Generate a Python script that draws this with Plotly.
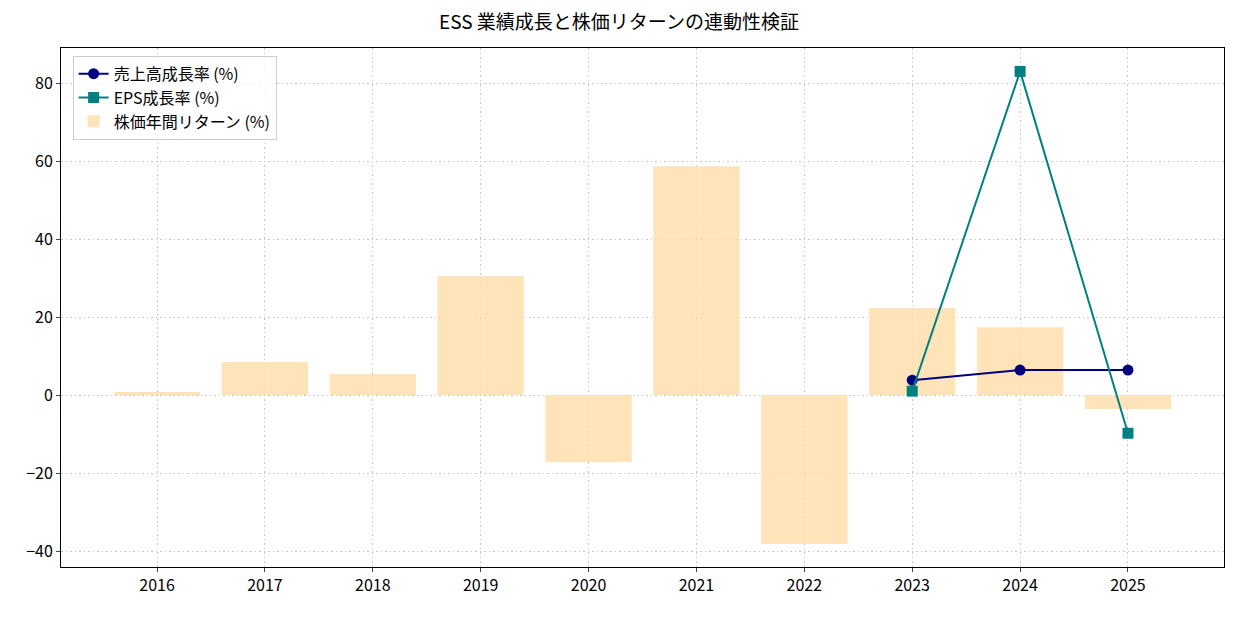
import plotly.graph_objects as go

years = [2016, 2017, 2018, 2019, 2020, 2021, 2022, 2023, 2024, 2025]
stock_return = [0.8, 8.5, 5.4, 30.5, -17.2, 58.7, -38.2, 22.3, 17.4, -3.6]
rev_years = [2023, 2024, 2025]
revenue_growth = [3.8, 6.4, 6.4]
eps_growth = [1.0, 83.0, -9.8]

FONT = "Noto Sans CJK JP"
idx = {y: i for i, y in enumerate(years)}

fig = go.Figure()
fig.add_trace(go.Scatter(
    x=[idx[y] for y in rev_years], y=revenue_growth, mode="lines+markers",
    name="売上高成長率 (%)", line=dict(color="#000080", width=2),
    marker=dict(symbol="circle", size=11, color="#000080"),
))
fig.add_trace(go.Scatter(
    x=[idx[y] for y in rev_years], y=eps_growth, mode="lines+markers",
    name="EPS成長率 (%)", line=dict(color="#008080", width=2),
    marker=dict(symbol="square", size=11, color="#008080"),
))
fig.add_trace(go.Bar(
    x=list(range(len(years))), y=stock_return, width=0.8,
    name="株価年間リターン (%)", marker=dict(color="rgba(255,222,173,0.85)", line=dict(width=0)),
))

fig.update_layout(
    width=1238, height=617,
    margin=dict(l=61, r=14, t=48, b=50),
    paper_bgcolor="white", plot_bgcolor="white",
    font=dict(family=FONT, size=16, color="black"),
    title=dict(text="ESS 業績成長と株価リターンの連動性検証", x=0.5, xanchor="center",
               y=0.975, yanchor="top", font=dict(size=19, family=FONT)),
    legend=dict(x=0.01, y=0.985, xanchor="left", yanchor="top",
                bordercolor="#cccccc", borderwidth=1, bgcolor="rgba(255,255,255,0.8)",
                font=dict(size=16, family=FONT), traceorder="normal",
                tracegroupgap=4),
    showlegend=True,
    bargap=0.2,
)
grid = dict(showgrid=True, gridcolor="#c4c4c4", griddash="1.5px,3px", gridwidth=1.4,
            showline=True, linecolor="black", linewidth=1, mirror=True,
            ticks="outside", ticklen=4, zeroline=False)
fig.update_xaxes(
    range=[-0.89, 9.89], tickmode="array", tickvals=list(range(len(years))),
    ticktext=[str(y) for y in years], **grid,
)
fig.update_yaxes(
    range=[-44.1, 89], tickvals=[-40, -20, 0, 20, 40, 60, 80],
    ticktext=["−40", "−20", "0", "20", "40", "60", "80"], **grid,
)

fig.write_html("out.html")
